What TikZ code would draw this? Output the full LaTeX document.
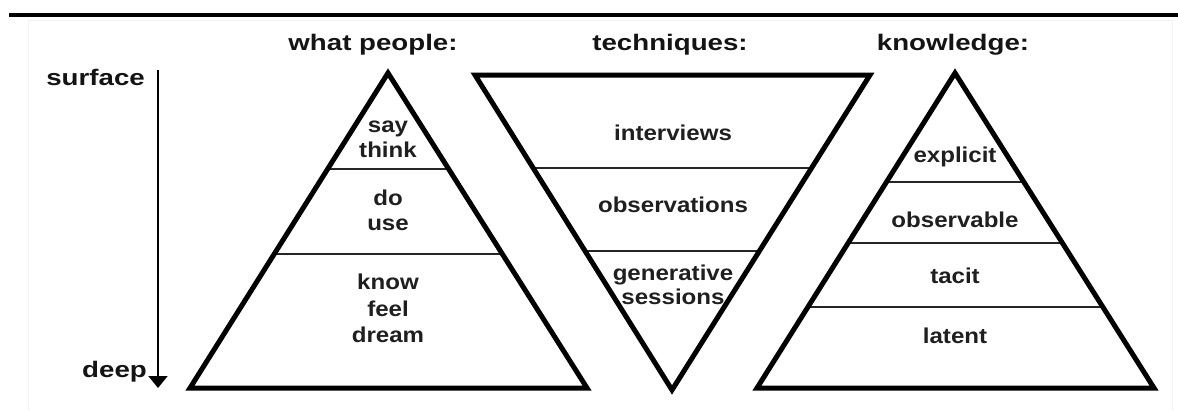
\documentclass[tikz,border=0pt]{standalone}
\usepackage{fontspec}
\setmainfont{Liberation Sans}
\newfontfamily\bodyfont{Liberation Sans}[FakeStretch=1.12]
\newfontfamily\headfont{Liberation Sans}[FakeStretch=1.23]
\usetikzlibrary{arrows.meta,calc}
\tikzset{
  outline/.style={line width=5pt, line join=miter},
  divider/.style={line width=1.8pt, black!85},
  bodytext/.style={font=\bodyfont\bfseries\fontsize{21.5}{25}\selectfont, text=black!88, align=center, inner sep=0pt},
  headtext/.style={font=\headfont\bfseries\fontsize{22.5}{26}\selectfont, text=black!92, inner sep=0pt},
}
\begin{document}
\begin{tikzpicture}[x=1pt,y=-1pt]
\useasboundingbox (0,0) rectangle (1178,410);
% frame and top bar
\draw[black!5, line width=0.8pt] (28,20) -- (1172,20) -- (1172,410);
\draw[black!5, line width=0.8pt] (28,20) -- (28,410);
\fill[black] (9,13) rectangle (1178,17);

% headings
\node[headtext] (h1) at (373,45) {what people:};
\node[headtext] (h2) at (670,45) {techniques:};
\node[headtext] (h3) at (953,45) {knowledge:};

% depth axis
\node[headtext, anchor=east] (surf) at (145,77) {surface};
\node[headtext, anchor=east] (deep) at (147,372) {deep};
\coordinate (atop) at (158,70);
\coordinate (abot) at (158,388);
\draw[line width=2pt, -{Triangle[width=19pt,length=12pt]}] (atop) -- (abot);

% left pyramid
\coordinate (LA) at (388,73);
\coordinate (LL) at (190,388);
\coordinate (LR) at (587,388);
\draw[divider] ($(LA)!0.305!(LL)$) -- ($(LA)!0.305!(LR)$);
\draw[divider] ($(LA)!0.575!(LL)$) -- ($(LA)!0.575!(LR)$);
\draw[outline] (LA) -- (LL) -- (LR) -- cycle;
\node[bodytext] (say) at (388,139.5) {say\\think};
\node[bodytext] (do) at (388,210) {do\\use};
\node[bodytext, font=\bodyfont\bfseries\fontsize{21.5}{26.5}\selectfont] (know) at (388,308.5) {know\\feel\\dream};

% middle inverted pyramid
\coordinate (ML) at (475,75);
\coordinate (MR) at (870,75);
\coordinate (MB) at (672,390);
\draw[divider] ($(ML)!0.295!(MB)$) -- ($(MR)!0.295!(MB)$);
\draw[divider] ($(ML)!0.559!(MB)$) -- ($(MR)!0.559!(MB)$);
\draw[outline] (ML) -- (MR) -- (MB) -- cycle;
\node[bodytext] (int) at (673,133) {interviews};
\node[bodytext] (obs) at (673,205) {observations};
\node[bodytext, font=\bodyfont\bfseries\fontsize{21.5}{24}\selectfont] (gen) at (673,285) {generative\\sessions};

% right pyramid
\coordinate (RA) at (955,73);
\coordinate (RL) at (757,388);
\coordinate (RR) at (1154,388);
\draw[divider] ($(RA)!0.346!(RL)$) -- ($(RA)!0.346!(RR)$);
\draw[divider] ($(RA)!0.540!(RL)$) -- ($(RA)!0.540!(RR)$);
\draw[divider] ($(RA)!0.743!(RL)$) -- ($(RA)!0.743!(RR)$);
\draw[outline] (RA) -- (RL) -- (RR) -- cycle;
\node[bodytext] (exp) at (955,157) {explicit};
\node[bodytext] (obv) at (955,220) {observable};
\node[bodytext] (tac) at (955,276) {tacit};
\node[bodytext] (lat) at (955,336) {latent};
\end{tikzpicture}
\end{document}
